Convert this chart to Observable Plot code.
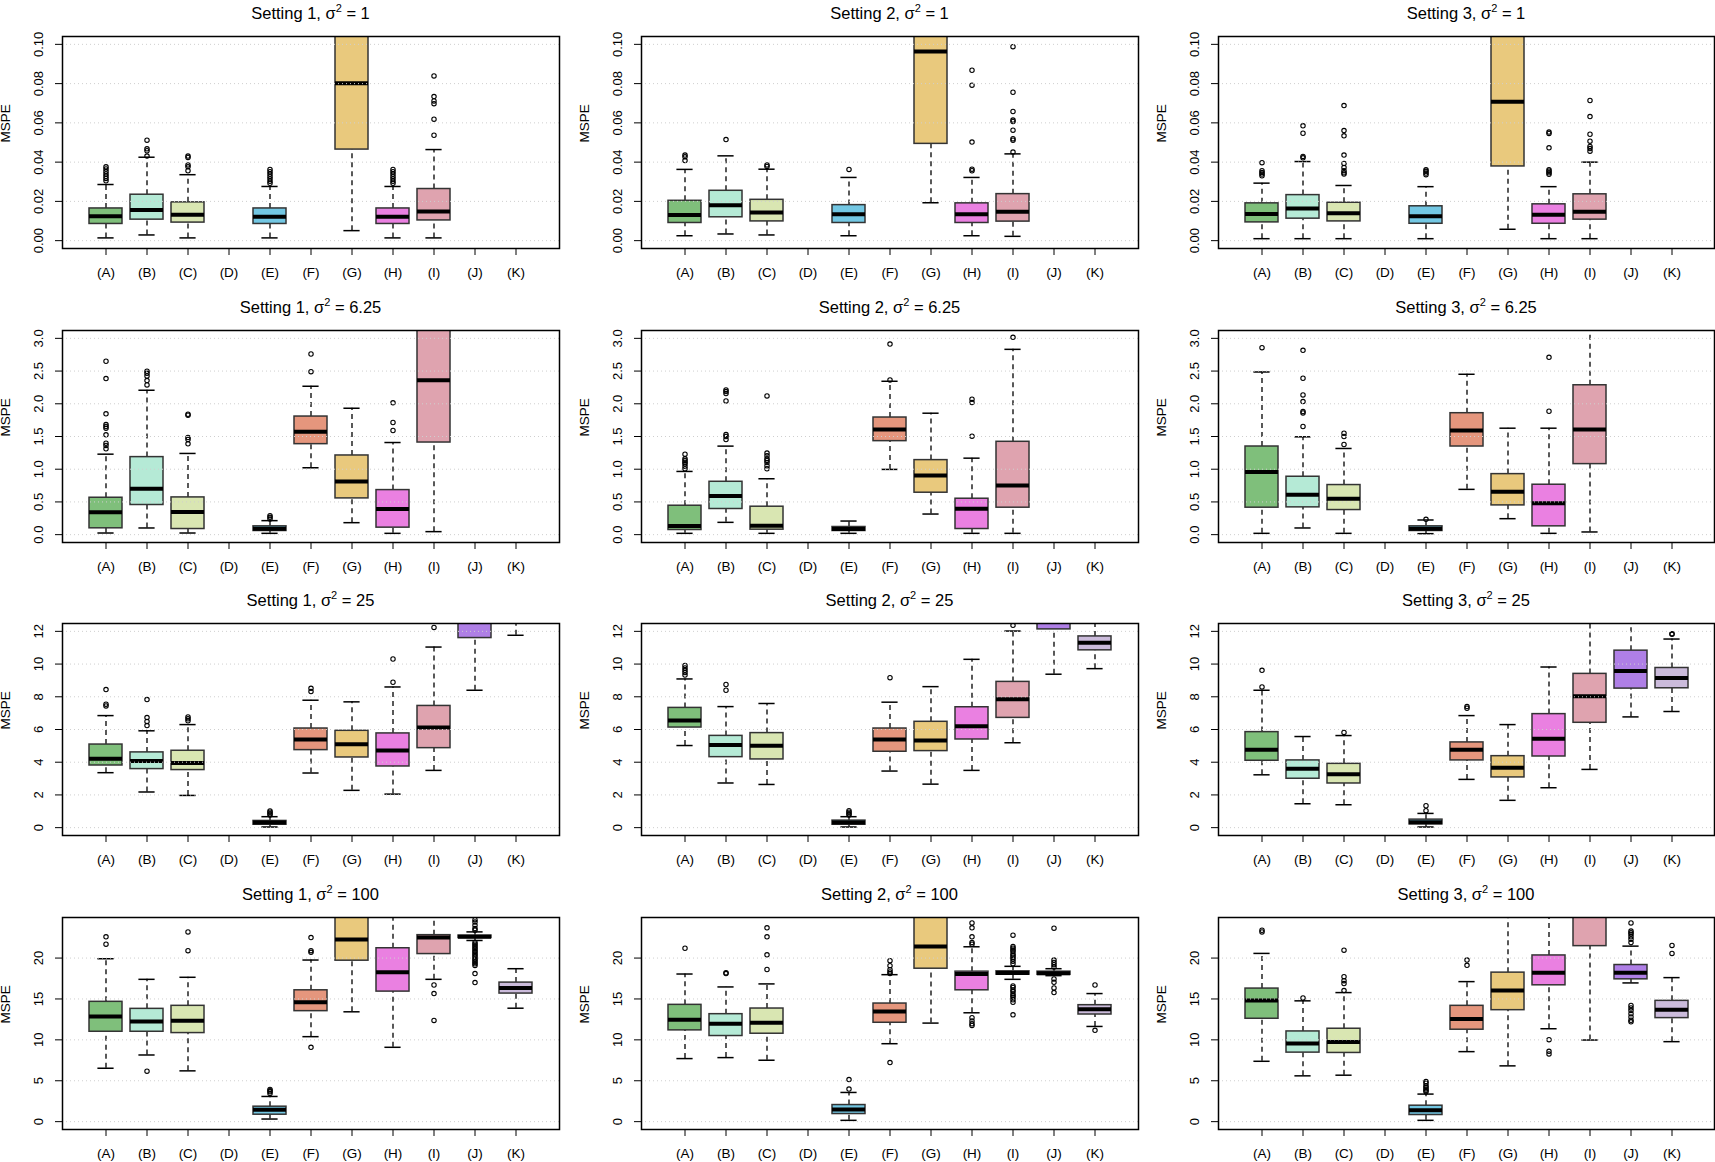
<!DOCTYPE html>
<html><head><meta charset="utf-8">
<script src="https://cdn.jsdelivr.net/npm/d3@7"></script>
<script src="https://cdn.jsdelivr.net/npm/@observablehq/plot@0.6"></script>
<style>
html,body{margin:0;padding:0;background:#fff;overflow:hidden;}
#chart{position:relative;width:1715px;height:1162px;font-family:"Liberation Sans",Arial,Helvetica,sans-serif;color:#000;}
.panel{position:absolute;}
.title{position:absolute;font-size:16.5px;line-height:16px;text-align:center;white-space:nowrap;}
.title sup{font-size:11px;vertical-align:baseline;position:relative;top:-7px;}
</style></head><body><div id="chart"></div>
<script>
const methods = ["(A)","(B)","(C)","(D)","(E)","(F)","(G)","(H)","(I)","(J)","(K)"];
const methodColors = ["#7fbf7b","#b5ead6","#d9e6b2","#cccccc","#73c7e3","#e5967d","#e9c97d","#ea80e1","#dfa3af","#af7fe6","#cbbbdb"];
const settings = ["1","2","3"];
const sigmas = ["1","6.25","25","100"];
const yMaxByRow = [0.1, 3, 12, 24];
const yTicksByRow = [[0,0.02,0.04,0.06,0.08,0.10],[0,0.5,1,1.5,2,2.5,3],[0,2,4,6,8,10,12],[0,5,10,15,20]];
const yDigitsByRow = [2,1,0,0];

// [method, lower whisker, Q1, median, Q3, upper whisker, outliers]
const s1_v1 = [
 ["(A)",0.0014,0.0085,0.0124,0.0164,0.0286,[0.0305,0.0317,0.0328,0.0340,0.0352,0.0365,0.0376]],
 ["(B)",0.0029,0.0107,0.0156,0.0234,0.0425,[0.0431,0.0458,0.0468,0.0512]],
 ["(C)",0.0014,0.0092,0.0132,0.0195,0.0336,[0.0356,0.0376,0.0386,0.0424,0.0431]],
 ["(E)",0.0014,0.0085,0.0122,0.0164,0.0276,[0.0292,0.0303,0.0315,0.0327,0.0339,0.0351,0.0363]],
 ["(G)",0.0051,0.0464,0.0802,0.125,0.2,[]],
 ["(H)",0.0014,0.0085,0.0122,0.0164,0.0276,[0.0292,0.0303,0.0315,0.0327,0.0339,0.0351,0.0363]],
 ["(I)",0.0014,0.0103,0.0149,0.0263,0.0464,[0.0537,0.0619,0.0698,0.0712,0.0734,0.0839]]
];
const s2_v1 = [
 ["(A)",0.0025,0.0090,0.0131,0.0203,0.0363,[0.0408,0.0427,0.0436]],
 ["(B)",0.0034,0.0119,0.0180,0.0254,0.0432,[0.0515]],
 ["(C)",0.0029,0.0098,0.0144,0.0208,0.0364,[0.0378,0.0386]],
 ["(E)",0.0025,0.0090,0.0134,0.0181,0.0322,[0.0363]],
 ["(G)",0.0193,0.0493,0.0963,0.13,0.2,[]],
 ["(H)",0.0025,0.0090,0.0134,0.0190,0.0322,[0.0356,0.0364,0.0502,0.0792,0.0868]],
 ["(I)",0.0022,0.0097,0.0147,0.0237,0.0442,[0.0451,0.0512,0.0519,0.0563,0.0607,0.0614,0.0658,0.0756,0.0988]]
];
const s3_v1 = [
 ["(A)",0.0010,0.0093,0.0136,0.0190,0.0293,[0.0330,0.0339,0.0347,0.0356,0.0397]],
 ["(B)",0.0010,0.0112,0.0164,0.0232,0.0403,[0.0422,0.0429,0.0547,0.0585]],
 ["(C)",0.0010,0.0098,0.0139,0.0193,0.0281,[0.0339,0.0346,0.0356,0.0373,0.0393,0.0436,0.0534,0.0561,0.0688]],
 ["(E)",0.0010,0.0086,0.0124,0.0175,0.0275,[0.0336,0.0344,0.0353,0.0361]],
 ["(G)",0.0058,0.0378,0.0708,0.12,0.2,[]],
 ["(H)",0.0010,0.0086,0.0132,0.0185,0.0275,[0.0338,0.0346,0.0354,0.0361,0.0473,0.0546,0.0553]],
 ["(I)",0.0010,0.0107,0.0147,0.0236,0.0400,[0.0456,0.0469,0.0480,0.0507,0.0542,0.0632,0.0714]]
];
const s1_v625 = [
 ["(A)",0.025,0.097,0.341,0.564,1.23,[1.312,1.363,1.398,1.525,1.627,1.653,1.683,1.846,2.385,2.65]],
 ["(B)",0.102,0.453,0.702,1.185,2.207,[2.288,2.354,2.425,2.466,2.497]],
 ["(C)",0.025,0.086,0.346,0.569,1.241,[1.388,1.454,1.485,1.826,1.84]],
 ["(E)",0.02,0.056,0.092,0.127,0.214,[0.239,0.264,0.29]],
 ["(F)",1.022,1.383,1.571,1.805,2.268,[2.491,2.761]],
 ["(G)",0.183,0.554,0.814,1.21,1.932,[]],
 ["(H)",0.02,0.107,0.392,0.681,1.408,[1.592,1.714,2.014]],
 ["(I)",0.046,1.408,2.359,3.6,6,[]]
];
const s2_v625 = [
 ["(A)",0.02,0.071,0.132,0.442,0.966,[1.007,1.047,1.083,1.108,1.134,1.159,1.23]],
 ["(B)",0.188,0.392,0.59,0.808,1.353,[1.454,1.5,1.53,2.044,2.156,2.186,2.212]],
 ["(C)",0.02,0.076,0.137,0.427,0.854,[1.007,1.053,1.103,1.134,1.159,1.205,1.246,2.12]],
 ["(E)",0.02,0.056,0.086,0.117,0.208,[]],
 ["(F)",0.997,1.429,1.607,1.79,2.344,[2.364,2.913]],
 ["(G)",0.315,0.641,0.905,1.139,1.856,[]],
 ["(H)",0.02,0.086,0.397,0.549,1.169,[1.505,2.019,2.07]],
 ["(I)",0.02,0.412,0.753,1.419,2.832,[3.015]]
];
const s3_v625 = [
 ["(A)",0.02,0.412,0.956,1.347,2.486,[2.858]],
 ["(B)",0.102,0.417,0.61,0.885,1.495,[1.653,1.861,1.881,2.034,2.136,2.39,2.817]],
 ["(C)",0.02,0.376,0.549,0.758,1.317,[1.378,1.5,1.551]],
 ["(E)",0.015,0.056,0.092,0.127,0.224,[0.234]],
 ["(F)",0.692,1.347,1.592,1.856,2.451,[]],
 ["(G)",0.244,0.447,0.656,0.925,1.627,[]],
 ["(H)",0.02,0.127,0.478,0.763,1.627,[1.886,2.71]],
 ["(I)",0.041,1.078,1.607,2.283,4.5,[]]
];
const s1_v25 = [
 ["(A)",3.36,3.80,4.21,5.08,6.85,[7.44,7.55,8.44]],
 ["(B)",2.18,3.58,4.07,4.60,5.92,[6.24,6.49,6.73,7.83]],
 ["(C)",1.97,3.52,3.95,4.70,6.30,[6.53,6.65,6.77]],
 ["(E)",0.04,0.18,0.31,0.41,0.67,[0.77,0.85,0.94,1.02]],
 ["(F)",3.34,4.74,5.39,6.06,7.79,[8.32,8.52]],
 ["(G)",2.28,4.29,5.10,5.92,7.69,[]],
 ["(H)",2.05,3.74,4.72,5.76,8.60,[8.89,10.31]],
 ["(I)",3.50,4.86,6.12,7.44,11.04,[12.24]],
 ["(J)",8.40,11.59,13.2,14.5,18,[]],
 ["(K)",11.76,13.5,14.5,15.5,18,[]]
];
const s2_v25 = [
 ["(A)",5.02,6.12,6.55,7.32,9.09,[9.33,9.48,9.62,9.76,9.92]],
 ["(B)",2.73,4.31,5.06,5.61,7.40,[8.40,8.75]],
 ["(C)",2.64,4.17,5.00,5.78,7.59,[]],
 ["(E)",0.04,0.18,0.31,0.43,0.67,[0.77,0.85,0.94,1.04]],
 ["(F)",3.46,4.64,5.39,6.06,7.67,[9.17]],
 ["(G)",2.66,4.68,5.33,6.47,8.62,[]],
 ["(H)",3.50,5.39,6.20,7.36,10.29,[]],
 ["(I)",5.19,6.71,7.85,8.91,12.02,[12.37]],
 ["(J)",9.38,12.12,13.2,14.5,18,[]],
 ["(K)",9.72,10.84,11.31,11.69,13.5,[]]
];
const s3_v25 = [
 ["(A)",3.23,4.09,4.76,5.84,8.40,[8.60,9.62]],
 ["(B)",1.46,2.99,3.60,4.11,5.57,[]],
 ["(C)",1.40,2.70,3.27,3.90,5.63,[5.82]],
 ["(E)",0.04,0.20,0.33,0.49,0.87,[1.04,1.34]],
 ["(F)",2.95,4.11,4.76,5.21,6.85,[7.30,7.40]],
 ["(G)",1.67,3.07,3.66,4.37,6.30,[]],
 ["(H)",2.44,4.35,5.43,6.94,9.82,[]],
 ["(I)",3.56,6.41,8.03,9.40,14,[]],
 ["(J)",6.77,8.50,9.58,10.82,13.5,[]],
 ["(K)",7.10,8.52,9.15,9.76,11.53,[11.82,11.86]]
];
const s1_v100 = [
 ["(A)",6.53,10.99,12.86,14.65,19.92,[21.7,22.6]],
 ["(B)",8.15,10.99,12.25,13.79,17.40,[6.17]],
 ["(C)",6.21,10.83,12.33,14.16,17.65,[20.9,23.2]],
 ["(E)",0.32,0.85,1.45,1.83,3.08,[3.45,3.65,3.77,3.93]],
 ["(F)",10.39,13.51,14.60,16.06,19.76,[9.09,20.7,20.9,22.5]],
 ["(G)",13.43,19.68,22.27,27,32,[]],
 ["(H)",9.09,15.9,18.26,21.2,28,[]],
 ["(I)",17.40,20.49,22.5,22.8,26,[12.37,15.66,16.71]],
 ["(J)",22.15,22.45,22.6,22.75,23.2,[17.0,18.1,19.1,19.3,19.5,19.7,19.9,20.1,20.3,20.5,20.7,20.9,21.1,21.3,21.5,21.7,21.9,23.4,23.6,24.0,24.4,24.7]],
 ["(K)",13.87,15.66,16.35,17.0,18.70,[]]
];
const s2_v100 = [
 ["(A)",7.71,11.16,12.45,14.28,18.05,[21.2]],
 ["(B)",7.83,10.47,11.97,13.14,16.47,[18.1,18.2]],
 ["(C)",7.51,10.75,12.09,13.83,16.84,[18.6,20.4,22.6,23.7]],
 ["(E)",0.16,0.93,1.50,2.03,3.57,[3.98,5.15]],
 ["(F)",9.53,12.09,13.47,14.44,17.97,[7.22,18.1,18.3,18.58,19.07,19.68]],
 ["(G)",12.05,18.70,21.42,27,33,[]],
 ["(H)",13.31,16.06,18.05,18.34,21.38,[11.76,11.97,12.3,12.7,21.7,21.9,22.6,23.7,24.3]],
 ["(I)",17.40,17.97,18.17,18.38,18.99,[13.06,14.6,14.9,15.2,15.4,15.6,15.9,16.1,16.4,16.6,19.3,19.6,19.9,20.1,20.3,20.5,20.8,21.0,21.2,21.4,22.8]],
 ["(J)",17.85,17.95,18.13,18.34,18.70,[15.78,16.35,17.04,17.44,18.9,19.19,19.47,19.76,23.65]],
 ["(K)",11.64,13.10,13.75,14.24,15.66,[11.16,16.71]]
];
const s3_v100 = [
 ["(A)",7.38,12.58,14.81,16.27,20.57,[23.2,23.4]],
 ["(B)",5.60,8.44,9.57,11.03,14.77,[15.13]],
 ["(C)",5.68,8.40,9.74,11.36,15.78,[16.02,16.88,17.24,17.73,20.97]],
 ["(E)",0.16,0.81,1.38,1.95,3.37,[3.65,3.8,4.0,4.2,4.4,4.7,4.9]],
 ["(F)",8.56,11.24,12.54,14.16,17.12,[19.11,19.76]],
 ["(G)",6.82,13.63,16.02,18.22,27,[]],
 ["(H)",11.36,16.67,18.22,20.32,28,[8.28,8.60,10.02]],
 ["(I)",9.98,21.46,26,30,40,[]],
 ["(J)",16.96,17.40,18.22,19.15,21.46,[12.2,12.4,12.8,13.2,13.6,13.9,14.2,21.9,22.3,22.6,22.9,23.1,23.3,24.3]],
 ["(K)",9.78,12.66,13.67,14.77,17.61,[20.57,21.54]]
];
const panelGrid = [
 [s1_v1, s2_v1, s3_v1],
 [s1_v625, s2_v625, s3_v625],
 [s1_v25, s2_v25, s3_v25],
 [s1_v100, s2_v100, s3_v100]
];

const FONT = '"Liberation Sans", Arial, Helvetica, sans-serif';
const colLeft = [0, 572, 1143];
const colMarginLeft = [62, 69, 75];
const colMarginRight = [13, 6, 1];
const rowTop = [0, 293.5, 587, 880.5];
const chart = document.getElementById("chart");

panelGrid.forEach((rowPanels, r) => {
  rowPanels.forEach((data, c) => {
    const stats = data.map(([m, lo, q1, med, q3, hi]) => ({m, lo, q1, med, q3, hi}));
    const outs = data.flatMap(([m, , , , , , o]) => o.map(v => ({m, v})));
    const ymax = yMaxByRow[r];
    const pad = 0.04 * ymax;
    const yTicks = yTicksByRow[r];
    const digits = yDigitsByRow[r];
    const ml = colMarginLeft[c], mr = colMarginRight[c];
    const svg = Plot.plot({
      width: 572, height: 282,
      marginLeft: ml, marginRight: mr, marginTop: 36, marginBottom: 34,
      style: {fontFamily: FONT, fontSize: "13px", color: "black", background: "white", overflow: "visible"},
      x: {type: "band", domain: methods, paddingInner: 0.2, paddingOuter: 0.54},
      y: {domain: [-pad, ymax + pad]},
      color: {domain: methods, range: methodColors},
      marks: [
        Plot.ruleX(stats, {x: "m", y1: "q3", y2: "hi", stroke: "black", strokeWidth: 1.3, strokeDasharray: "5,4", clip: true}),
        Plot.ruleX(stats, {x: "m", y1: "lo", y2: "q1", stroke: "black", strokeWidth: 1.3, strokeDasharray: "5,4", clip: true}),
        Plot.tickY(stats, {x: "m", y: "hi", insetLeft: 8.4, insetRight: 8.4, stroke: "black", strokeWidth: 1.5, clip: true}),
        Plot.tickY(stats, {x: "m", y: "lo", insetLeft: 8.4, insetRight: 8.4, stroke: "black", strokeWidth: 1.5, clip: true}),
        Plot.barY(stats, {x: "m", y1: "q1", y2: "q3", fill: "m", stroke: "#333", strokeWidth: 1.5, clip: true}),
        Plot.tickY(stats, {x: "m", y: "med", stroke: "black", strokeWidth: 4, clip: true}),
        Plot.dot(outs, {x: "m", y: "v", r: 2.2, stroke: "black", strokeWidth: 1.1, fill: "none", clip: true}),
        Plot.ruleY(yTicks, {stroke: "#cfcfcf", strokeWidth: 1, strokeDasharray: "1,3"}),
        Plot.frame({stroke: "black", strokeWidth: 1.5}),
        Plot.axisX({tickSize: 7, tickPadding: 12, fontSize: 13.5, label: null}),
        Plot.axisY({ticks: yTicks, tickSize: 7, tickPadding: 13, tickRotate: -90, tickFormat: d => d.toFixed(digits), label: null, fontSize: 13}),
        Plot.text(["MSPE"], {frameAnchor: "left", dx: -57, rotate: -90, fontSize: 13.5, fill: "black"})
      ]
    });
    svg.classList.add("panel");
    svg.style.left = colLeft[c] + "px";
    svg.style.top = rowTop[r] + "px";
    chart.appendChild(svg);

    const t = document.createElement("div");
    t.className = "title";
    t.style.left = (colLeft[c] + ml) + "px";
    t.style.width = (572 - ml - mr) + "px";
    t.style.top = (rowTop[r] + 5) + "px";
    t.innerHTML = `Setting ${settings[c]}, σ<sup>2</sup> = ${sigmas[r]}`;
    chart.appendChild(t);
  });
});
</script>
</body></html>
